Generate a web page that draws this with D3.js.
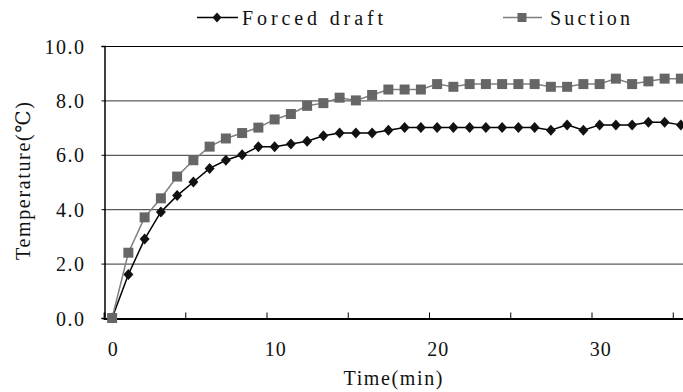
<!DOCTYPE html>
<html>
<head>
<meta charset="utf-8">
<script src="https://cdn.jsdelivr.net/npm/d3@7"></script>
<style>
  html, body { margin: 0; padding: 0; background: #fff; }
  svg { display: block; }
  svg text { font-family: "Liberation Serif", "DejaVu Serif", serif !important; fill: #111; }
</style>
</head>
<body>
<svg id="chart" width="683" height="392"></svg>
<script>
// ---- data ----
const minutes = d3.range(0, 36);
const forcedDraft = [0, 1.6, 2.9, 3.9, 4.5, 5.0, 5.5, 5.8, 6.0, 6.3, 6.3, 6.4, 6.5, 6.7, 6.8, 6.8, 6.8, 6.9,
                     7.0, 7.0, 7.0, 7.0, 7.0, 7.0, 7.0, 7.0, 7.0, 6.9, 7.1, 6.9, 7.1, 7.1, 7.1, 7.2, 7.2, 7.1];
const suction     = [0, 2.4, 3.7, 4.4, 5.2, 5.8, 6.3, 6.6, 6.8, 7.0, 7.3, 7.5, 7.8, 7.9, 8.1, 8.0, 8.2, 8.4,
                     8.4, 8.4, 8.6, 8.5, 8.6, 8.6, 8.6, 8.6, 8.6, 8.5, 8.5, 8.6, 8.6, 8.8, 8.6, 8.7, 8.8, 8.8];
const yTicks = [0, 2, 4, 6, 8, 10];
const xLabels = [0, 10, 20, 30];
const xTickBounds = [4.5, 9.5, 14.5, 19.5, 24.5, 29.5, 34.5];
const seriesNames = ["Forced draft", "Suction"];
const xTitle = "Time(min)";
const yTitle = "Temperature(\u2103)";

(function () {
// ---- layout ----
const svg = d3.select("#chart");
const pL = 104, pT = 46, pB = 318, pR = 689;
const x = d3.scaleLinear().domain([-0.5, 35.5]).range([pL, pR]);
const y = d3.scaleLinear().domain([0, 10]).range([pB, pT]);
const FS = 20;
const FF = "Liberation Serif";

// gridlines
svg.append("g").selectAll("line").data(yTicks.filter(v => v > 0 && v < 10)).join("line")
  .attr("x1", pL).attr("x2", pR)
  .attr("y1", d => y(d) + 0.5).attr("y2", d => y(d) + 0.5)
  .attr("stroke", "#333").attr("stroke-width", 1);

// top border
svg.append("line").attr("x1", pL).attr("x2", pR).attr("y1", y(10) + 0.5).attr("y2", y(10) + 0.5)
  .attr("stroke", "#000").attr("stroke-width", 1.2);

// y axis
const yAxis = d3.axisLeft(y).tickValues(yTicks).tickSize(3).tickFormat(d3.format(".1f"));
const gy = svg.append("g").attr("transform", `translate(${pL + 0.5},0)`).call(yAxis)
  .attr("font-family", FF).attr("font-size", FS);
gy.select(".domain").attr("stroke", "#000").attr("stroke-width", 1.5);
gy.selectAll(".tick line").attr("stroke", "#000");
gy.selectAll(".tick text").attr("x", -19).attr("dy", "0.35em")
  .style("font-size", FS + "px").style("font-family", FF).attr("fill", "#111")
  .attr("letter-spacing", "1.5px");

// x axis with ticks between categories
const xAxis = d3.axisBottom(x).tickValues(xTickBounds).tickSize(-6).tickFormat("");
const gx = svg.append("g").attr("transform", `translate(0,${pB + 0.5})`).call(xAxis);
gx.select(".domain").attr("stroke", "#000").attr("stroke-width", 1.8);
gx.selectAll(".tick line").attr("stroke", "#000");

svg.append("g").selectAll("text").data(xLabels).join("text")
  .attr("x", d => x(d) + 1).attr("y", 356)
  .attr("text-anchor", "middle").style("font-size", FS + "px").style("font-family", FF)
  .attr("letter-spacing", "1px")
  .text(d => d);

// titles
svg.append("text").attr("x", 393).attr("y", 385).attr("text-anchor", "middle")
  .style("font-size", FS + "px").style("font-family", FF)
  .attr("textLength", 99).attr("lengthAdjust", "spacing").text(xTitle);
svg.append("text").attr("transform", "translate(30,181) rotate(-90)").attr("text-anchor", "middle")
  .style("font-size", FS + "px").style("font-family", FF)
  .attr("textLength", 158).attr("lengthAdjust", "spacing").text(yTitle);

// series
const diamond = "M0,-5.5L5,0L0,5.5L-5,0Z";
const line = d3.line().x((d, i) => x(minutes[i])).y(d => y(d));

svg.append("path").datum(forcedDraft).attr("d", line)
  .attr("fill", "none").attr("stroke", "#000").attr("stroke-width", 1.5);
svg.append("g").selectAll("path").data(forcedDraft).join("path")
  .attr("d", diamond).attr("transform", (d, i) => `translate(${x(minutes[i])},${y(d)})`)
  .attr("fill", "#111");

svg.append("path").datum(suction).attr("d", line)
  .attr("fill", "none").attr("stroke", "#7f7f7f").attr("stroke-width", 1.5);
svg.append("g").selectAll("path").data(suction).join("path")
  .attr("d", d3.symbol(d3.symbolSquare, 100)).attr("transform", (d, i) => `translate(${x(minutes[i])},${y(d)})`)
  .attr("fill", "#666");

// legend
const lg = svg.append("g");
lg.append("line").attr("x1", 197).attr("x2", 238).attr("y1", 17.5).attr("y2", 17.5).attr("stroke", "#000").attr("stroke-width", 1.5);
lg.append("path").attr("d", diamond).attr("transform", "translate(217,17.5) scale(0.9)").attr("fill", "#111");
lg.append("text").attr("x", 242).attr("y", 25).style("font-size", FS + "px").style("font-family", FF)
  .attr("textLength", 141).attr("lengthAdjust", "spacing").text(seriesNames[0]);

lg.append("line").attr("x1", 503).attr("x2", 542).attr("y1", 17.5).attr("y2", 17.5).attr("stroke", "#7f7f7f").attr("stroke-width", 1.5);
lg.append("path").attr("d", d3.symbol(d3.symbolSquare, 81)).attr("transform", "translate(522,17.5)").attr("fill", "#666");
lg.append("text").attr("x", 550).attr("y", 25).style("font-size", FS + "px").style("font-family", FF)
  .attr("textLength", 80).attr("lengthAdjust", "spacing").text(seriesNames[1]);
})();
</script>
</body>
</html>
